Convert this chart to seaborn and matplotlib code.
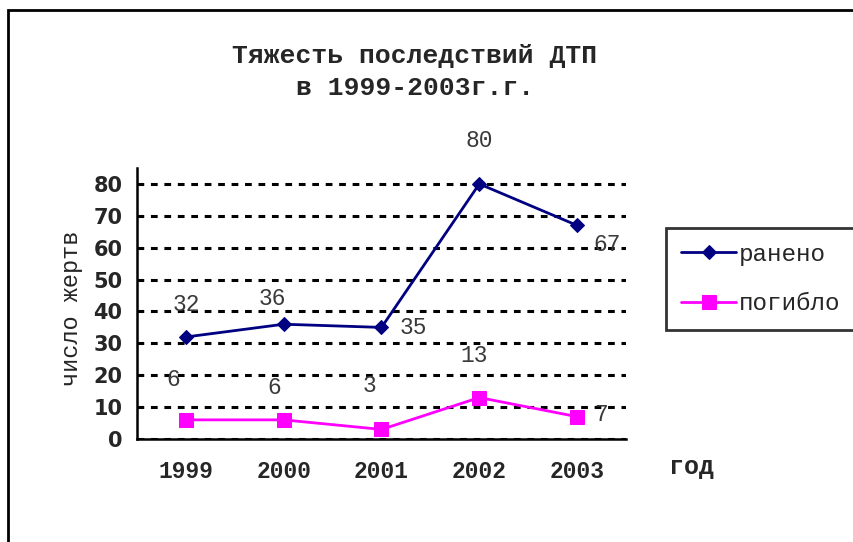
import pandas as pd
import matplotlib
matplotlib.use("Agg")
import matplotlib.pyplot as plt
import seaborn as sns
from matplotlib.patches import Rectangle

# data
years = ["1999", "2000", "2001", "2002", "2003"]
injured = [32, 36, 35, 80, 67]
killed = [6, 6, 3, 13, 7]
series_names = ["ранено", "погибло"]

# label offsets in pixels (dx, dy), one per point
injured_offsets = [(0, 32), (-11, 26), (32, 0), (0, 43), (30, -19)]
killed_offsets = [(-13, 40), (-9, 32), (-12, 44), (-5, 42), (24, 2)]

df = pd.DataFrame({
    "pos": list(range(len(years))) * 2,
    "value": injured + killed,
    "series": [series_names[0]] * len(years) + [series_names[1]] * len(years),
})

sns.set_style("white")
mono = "Liberation Mono"

fig = plt.figure(figsize=(8.54, 5.42), dpi=100)
ax = fig.add_axes([137 / 854, 1 - 439 / 542, (626 - 137) / 854, (439 - 168) / 542])

palette = {"ранено": "#000080", "погибло": "#FF00FF"}
markers = {"ранено": "D", "погибло": "s"}
sizes_m = {"ранено": 7.5, "погибло": 10}

for name in series_names:
    sub = df[df.series == name]
    sns.lineplot(data=sub, x="pos", y="value", ax=ax, color=palette[name],
                 marker=markers[name], markersize=sizes_m[name],
                 markeredgecolor=palette[name], linewidth=2, label=name,
                 legend=False)

# data labels
for vals, offs in [(injured, injured_offsets), (killed, killed_offsets)]:
    for i, (v, (dx, dy)) in enumerate(zip(vals, offs)):
        ax.annotate(str(v), (i, v), xytext=(dx, dy), textcoords="offset pixels",
                    ha="center", va="center", fontsize=16.5, family=mono,
                    color="#3a3a3a", annotation_clip=False)

ax.set_xlim(-0.5, len(years) - 0.5)
ax.set_ylim(0, 85)
ax.set_yticks(range(0, 81, 10))
ax.set_xticks(range(len(years)))
ax.set_xticklabels(years, family=mono, fontweight="bold", fontsize=16.5)
ax.set_xticks([i - 0.5 for i in range(len(years) + 1)], minor=True)
ax.tick_params(axis="x", which="major", length=0, pad=15)
ax.tick_params(axis="x", which="minor", length=8, width=1.5, direction="out",
               color="black")
ax.tick_params(axis="y", length=7, width=1.5, direction="out", color="black",
               labelsize=15)
for lab in ax.get_yticklabels():
    lab.set_fontweight("bold")
    lab.set_family("DejaVu Sans")

ax.yaxis.grid(True, linestyle=(0, (2.2, 2.2)), color="black", linewidth=2.2)
ax.xaxis.grid(False)
ax.set_axisbelow(True)
for s in ["top", "right"]:
    ax.spines[s].set_visible(False)
for s in ["left", "bottom"]:
    ax.spines[s].set_color("black")
    ax.spines[s].set_linewidth(1.8)

ax.set_xlabel("")
ax.set_ylabel("число жертв", family=mono, fontsize=17)
ax.yaxis.set_label_coords(-0.111, 0.483)

# legend
leg = fig.legend(*ax.get_legend_handles_labels(), loc="upper left",
                 bbox_to_anchor=(666 / 854, 1 - 228 / 542),
                 prop={"family": mono, "size": 17.5}, frameon=True,
                 fancybox=False, edgecolor="black", handlelength=2.3,
                 labelspacing=1.1, handletextpad=0.1, borderpad=0.6,
                 borderaxespad=0)
leg.get_frame().set_linewidth(2)

fig.text(415 / 854, 1 - 72 / 542, "Тяжесть последствий ДТП\nв 1999-2003г.г.",
         ha="center", va="center", family=mono, fontweight="bold",
         fontsize=19, linespacing=1.4)
fig.text(692 / 854, 1 - 467 / 542, "год", ha="center", va="center",
         family=mono, fontweight="bold", fontsize=18)

# outer frame of the chart area
fig.patches.append(Rectangle((8 / 854, -0.1), 2, 1.1 - 10 / 542,
                             transform=fig.transFigure, fill=False,
                             edgecolor="black", linewidth=2))

fig.savefig("out.png", dpi=100)
